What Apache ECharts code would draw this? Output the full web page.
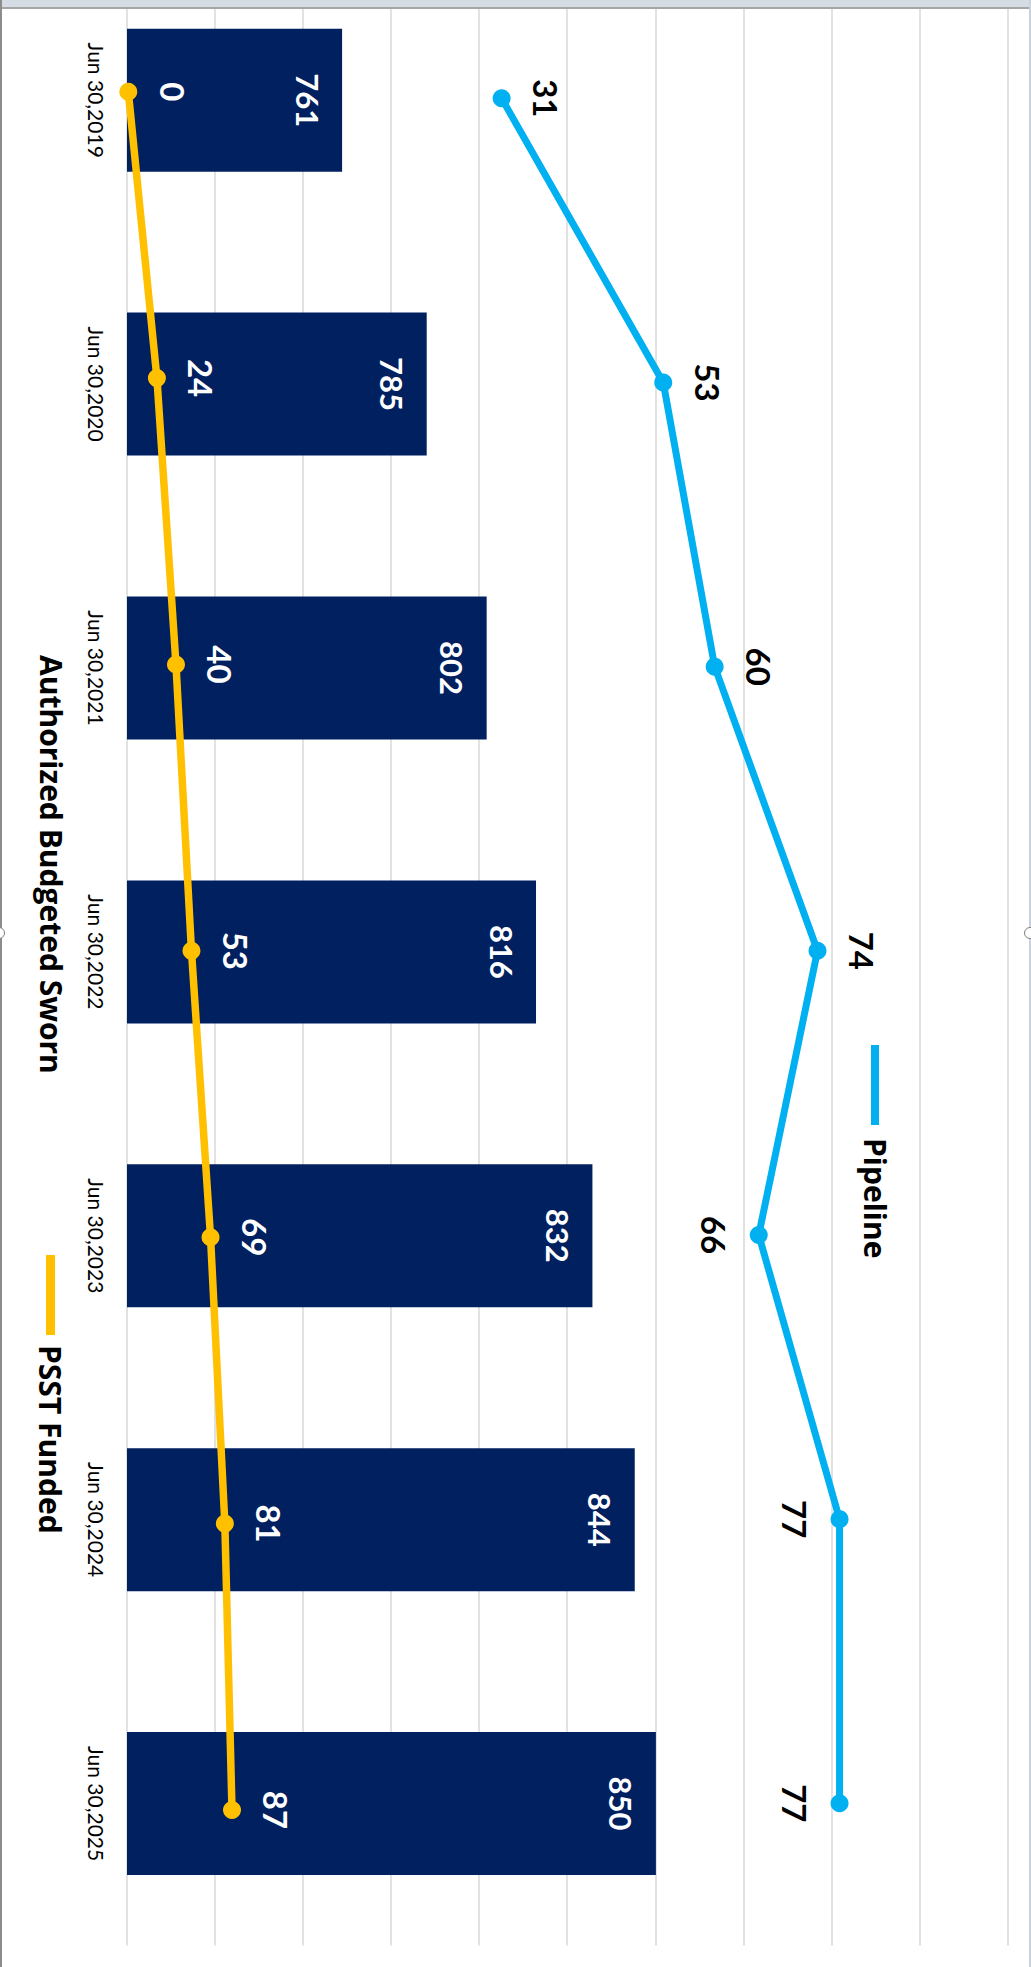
<!DOCTYPE html>
<html>
<head>
<meta charset="utf-8">
<script src="https://cdn.jsdelivr.net/npm/echarts@6/dist/echarts.min.js"></script>
<style>
  html, body { margin:0; padding:0; width:1031px; height:1967px; overflow:hidden; background:#fff; }
  #wrap { position:absolute; left:0; top:0; width:2017px; height:1031px; transform-origin:0 0; transform: translate(1031px, -50px) rotate(90deg); }
  #chart { width:2017px; height:1031px; }
  .frame { position:absolute; }
  .handle { position:absolute; width:10px; height:10px; border-radius:50%; border:1.5px solid #7f7f7f; background:#fff; }
</style>
</head>
<body>
<div id="wrap"><div id="chart"></div></div>
<div class="frame" style="left:0;top:0;width:1031px;height:7px;background:#d6dce4;"></div>
<div class="frame" style="left:0;top:7px;width:1031px;height:2px;background:#a6a6a6;"></div>
<div class="frame" style="left:0;top:0;width:2px;height:1967px;background:#8c8c8c;"></div>
<div class="frame" style="left:1029px;top:0;width:2px;height:1967px;background:#c9d1dc;"></div>
<div class="handle" style="left:-7px;top:927px;"></div>
<div class="handle" style="left:1024px;top:927px;"></div>
<script>
// ---- data ----
const categories = ['Jun 30,2019', 'Jun 30,2020', 'Jun 30,2021', 'Jun 30,2022', 'Jun 30,2023', 'Jun 30,2024', 'Jun 30,2025'];
const swornValues = [761, 785, 802, 816, 832, 844, 850];
const psstValues = [0, 24, 40, 53, 69, 81, 87];
const pipelineValues = [31, 53, 60, 74, 66, 77, 77];
const pipelineLabelSide = ['top', 'top', 'top', 'top', 'bottom', 'bottom', 'bottom'];
const seriesNames = ['Authorized Budgeted Sworn', 'PSST Funded', 'Pipeline'];

const chart = echarts.init(document.getElementById('chart'), null, { renderer: 'svg', width: 2017, height: 1031 });
const FONT = 'Lato';
const LEGEND_FONT = 'Open Sans';

const option = {
  animation: false,
  backgroundColor: 'transparent',
  textStyle: { fontFamily: FONT },
  grid: [
    { left: 8.25, right: 21.5, top: 22.5, bottom: 127, containLabel: false },
    { left: 148.3, right: 163.7, top: 22.5, bottom: 127, containLabel: false },
    { left: 141.7, right: 157, top: 20.7, bottom: 128.3, containLabel: false }
  ],
  legend: [
    { data: [seriesNames[0]], left: 700, top: 965, padding: 0, itemWidth: 0, itemHeight: 0, selectedMode: false,
      textStyle: { fontFamily: LEGEND_FONT, fontSize: 30, fontWeight: 'bold', color: '#000' } },
    { data: [seriesNames[1]], left: 1305, top: 965.5, padding: 0, icon: 'rect', itemWidth: 80, itemHeight: 9, selectedMode: false,
      textStyle: { fontFamily: LEGEND_FONT, fontSize: 30, fontWeight: 'bold', color: '#000', padding: [0, 0, 0, 5] } },
    { data: [seriesNames[2]], left: 1095, top: 141, padding: 0, icon: 'rect', itemWidth: 80, itemHeight: 8, selectedMode: false,
      textStyle: { fontFamily: LEGEND_FONT, fontSize: 30, fontWeight: 'bold', color: '#000', padding: [0, 0, 0, 8] } }
  ],
  xAxis: [
    { type: 'category', gridIndex: 0, data: categories, boundaryGap: true,
      axisLine: { show: false }, axisTick: { show: false },
      axisLabel: { interval: 0, fontSize: 21, color: '#000', margin: 20, fontFamily: FONT } },
    { type: 'category', gridIndex: 1, data: categories, boundaryGap: false, show: false },
    { type: 'category', gridIndex: 2, data: categories, boundaryGap: false, show: false }
  ],
  yAxis: [
    { type: 'value', gridIndex: 0, min: 700, max: 950, interval: 25, startValue: 700,
      axisLabel: { show: false }, axisLine: { show: false }, axisTick: { show: false },
      splitLine: { show: true, lineStyle: { color: '#d9d9d9', width: 1.5 } } },
    { type: 'value', gridIndex: 1, min: -20, max: 100, show: false, splitLine: { show: false } },
    { type: 'value', gridIndex: 2, min: 0, max: 740, show: false, splitLine: { show: false } }
  ],
  series: [
    { name: seriesNames[0], type: 'bar', xAxisIndex: 0, yAxisIndex: 0, data: swornValues,
      barWidth: 143, clip: true, z: 2,
      itemStyle: { color: '#002060' },
      label: { show: true, position: 'insideTop', distance: 19, color: '#fff', fontWeight: 'bold', fontSize: 31, fontFamily: FONT } },
    { name: seriesNames[1], type: 'line', xAxisIndex: 2, yAxisIndex: 2, data: psstValues, z: 4,
      color: '#FFC000', symbol: 'circle', symbolSize: 18,
      lineStyle: { color: '#FFC000', width: 7.5 }, itemStyle: { color: '#FFC000' },
      label: { show: true, position: 'top', distance: 19, color: '#fff', fontWeight: 'bold', fontSize: 33, fontFamily: FONT } },
    { name: seriesNames[2], type: 'line', xAxisIndex: 1, yAxisIndex: 1, z: 3,
      data: pipelineValues.map((v, i) => ({ value: v, label: { position: pipelineLabelSide[i] } })),
      color: '#00B0F0', symbol: 'circle', symbolSize: 18,
      lineStyle: { color: '#00B0F0', width: 7 }, itemStyle: { color: '#00B0F0' },
      label: { show: true, distance: 19, color: '#000', fontWeight: 'bold', fontSize: 33, fontFamily: FONT } }
  ]
};
chart.setOption(option);
</script>
</body>
</html>
